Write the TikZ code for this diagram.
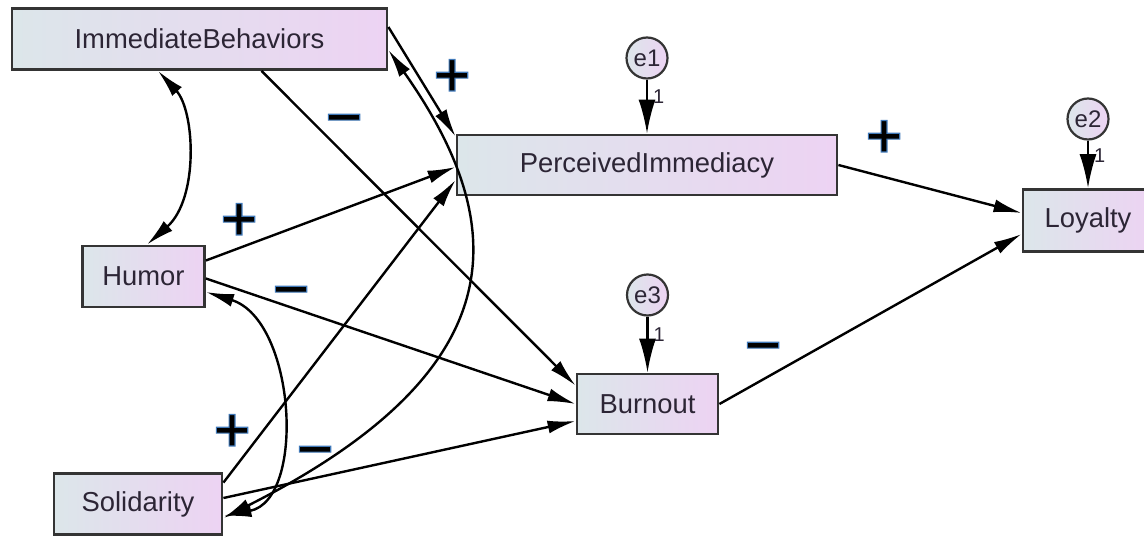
\documentclass[tikz,border=0pt]{standalone}
\usepackage{fontspec}
\setmainfont{Liberation Sans}
\newfontfamily\signfont{DejaVu Sans}
\usetikzlibrary{arrows.meta}

\definecolor{boxleft}{HTML}{DCE6EA}
\definecolor{boxright}{HTML}{EDD3F3}
\definecolor{boxline}{HTML}{343434}
\definecolor{txt}{HTML}{2C2535}

% black glyph with a thin blue rim (fill + stroke render mode)
\newcommand{\rimmed}[1]{\special{pdf:literal direct 2 Tr 0.6 w 0.247 0.471 0.722 RG}#1\special{pdf:literal direct 0 Tr}}
\newcommand{\possign}{\rimmed{\signfont\bfseries +}}
\newcommand{\negsign}{\rimmed{\signfont\bfseries −}}

\begin{document}
\begin{tikzpicture}[x=0.5pt, y=-0.5pt, >={Latex[length=14pt,width=6.5pt]},
  var/.style={draw=boxline, line width=1.4pt, left color=boxleft, right color=boxright, text=txt, font=\fontsize{13.7}{16}\selectfont, inner sep=0pt},
  err/.style={circle, draw=boxline, line width=1.1pt, left color=boxleft, right color=boxright, text=txt, minimum size=20.5pt, inner sep=0pt, font=\fontsize{12}{14}\selectfont},
  effect/.style={->, line width=1.2pt},
  cov/.style={<->, line width=1.2pt},
  errpath/.style={-{Latex[length=17pt,width=8.5pt]}, line width=1.2pt},
  one/.style={right=2.5pt, inner sep=0pt, text=txt, font=\fontsize{10}{12}\selectfont},
  sgn/.style={inner sep=0pt, text=black, text height=17.9pt, text depth=0pt, font=\fontsize{25}{25}\selectfont}]
  \useasboundingbox (0,0) rectangle (1144,535);

  % variables
  \node[var, minimum width=187.5pt, minimum height=30.5pt] (IB) at (199.5,39) {ImmediateBehaviors};
  \node[var, minimum width=190pt, minimum height=30pt] (PI) at (647,165) {PerceivedImmediacy};
  \node[var, minimum width=61pt, minimum height=30.5pt] (Humor) at (143.5,276.5) {Humor};
  \node[var, minimum width=70.5pt, minimum height=30pt] (Burnout) at (647.5,404) {Burnout};
  \node[var, minimum width=84pt, minimum height=30.5pt] (Solidarity) at (138,504) {Solidarity};
  \node[var, minimum width=65pt, minimum height=31pt] (Loyalty) at (1088,220.5) {Loyalty};

  % error terms
  \node[err] (e1) at (647,58) {e1};
  \node[err] (e2) at (1088,119) {e2};
  \node[err] (e3) at (647.5,295) {e3};
  \draw[errpath] (e1) -- (PI) node[pos=0.32, one] {1};
  \draw[errpath] (e2) -- (Loyalty) node[pos=0.32, one] {1};
  \draw[errpath] (e3) -- (Burnout) node[pos=0.32, one] {1};

  % paths
  \draw[effect] ([yshift=6pt]IB.east) -- ([yshift=-1.5pt]PI.north west);
  \draw[effect] ([xshift=31pt]IB.south) -- ([yshift=-6.5pt]Burnout.north west);
  \draw[effect] ([yshift=8pt]Humor.east) -- ([yshift=-1pt]PI.west);
  \draw[effect] ([yshift=-1pt]Humor.east) -- (Burnout.west);
  \draw[effect] ([yshift=-5.25pt]Solidarity.north east) -- ([yshift=-7.5pt]PI.west);
  \draw[effect] ([yshift=3pt]Solidarity.east) -- ([yshift=-8.5pt]Burnout.west);
  \draw[effect] (PI.east) -- ([yshift=3.75pt]Loyalty.west);
  \draw[effect] (Burnout.east) -- ([yshift=-6.75pt]Loyalty.west);

  % covariances
  \draw[cov] ([xshift=-20.75pt]IB.south) .. controls +(37,40) and +(52,-46) .. ([xshift=1.75pt]Humor.north);
  \draw[cov] ([yshift=-7.75pt]Humor.east) .. controls +(90,28) and +(83,-16) .. ([yshift=-6pt]Solidarity.east);
  \draw[cov] ([yshift=-5.5pt]IB.east) .. controls +(127,180) and +(289,-146) .. ([yshift=-7pt]Solidarity.east);

  % signs
  \node[sgn] (s1) at (452,73) {\possign};
  \node[sgn] (s2) at (344,115) {\negsign};
  \node[sgn] (s3) at (884,134) {\possign};
  \node[sgn] (s4) at (239,217) {\possign};
  \node[sgn] (s5) at (291,287) {\negsign};
  \node[sgn] (s6) at (763,343) {\negsign};
  \node[sgn] (s7) at (232,428) {\possign};
  \node[sgn] (s8) at (315,447) {\negsign};
\end{tikzpicture}
\end{document}
